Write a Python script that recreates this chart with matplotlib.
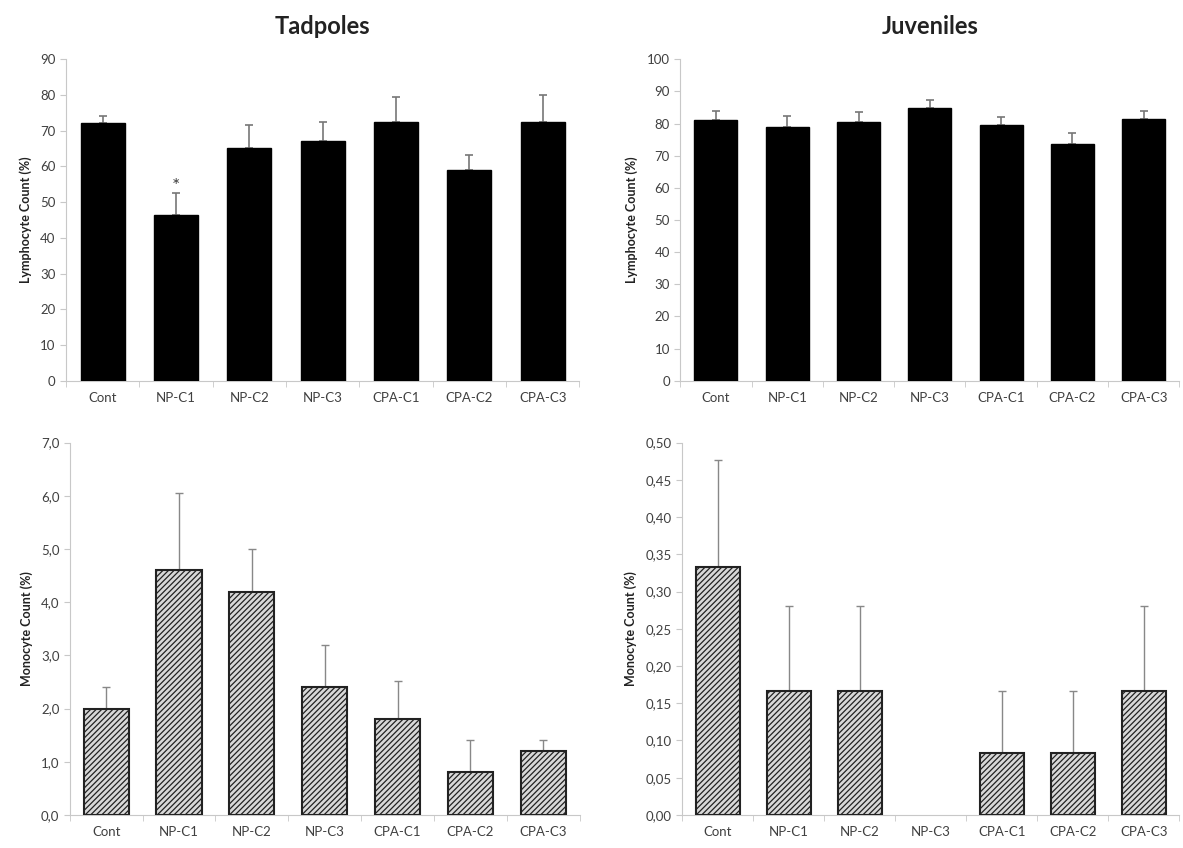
import numpy as np
import matplotlib.pyplot as plt
from matplotlib.ticker import FuncFormatter

groups = ["Cont", "NP-C1", "NP-C2", "NP-C3", "CPA-C1", "CPA-C2", "CPA-C3"]

# lymphocyte counts (%) with upper SE
tad_lym = [72.2, 46.5, 65.3, 67.2, 72.5, 59.0, 72.5]
tad_lym_err = [1.8, 6.0, 6.4, 5.3, 7.0, 4.3, 7.5]
juv_lym = [81.2, 79.0, 80.5, 85.0, 79.5, 73.7, 81.5]
juv_lym_err = [2.8, 3.5, 3.0, 2.3, 2.5, 3.3, 2.5]

# monocyte counts (%) with upper SE
tad_mono = [2.0, 4.6, 4.2, 2.4, 1.8, 0.8, 1.2]
tad_mono_err = [0.4, 1.45, 0.8, 0.8, 0.72, 0.6, 0.2]
juv_mono = [0.333, 0.167, 0.167, 0.0, 0.083, 0.083, 0.167]
juv_mono_err = [0.144, 0.113, 0.113, 0.0, 0.084, 0.084, 0.113]

plt.rcParams['font.family'] = ['Lato', 'DejaVu Sans']
plt.rcParams['hatch.color'] = '#333333'
plt.rcParams['hatch.linewidth'] = 0.9

fig = plt.figure(figsize=(11.83, 8.48), dpi=100)
ax_tl = fig.add_axes([0.0558, 0.551, 0.434, 0.379])
ax_tr = fig.add_axes([0.575, 0.551, 0.422, 0.379])
ax_bl = fig.add_axes([0.059, 0.039, 0.431, 0.439])
ax_br = fig.add_axes([0.5765, 0.039, 0.4205, 0.439])

x = np.arange(len(groups))
spine_col = '#c8c8c8'
text_col = '#404040'


def style(ax, ymax, step, ylabel, fmt=None):
    ax.set_xlim(-0.5, len(groups) - 0.5)
    ax.set_ylim(0, ymax)
    ax.set_yticks(np.arange(0, ymax + step / 2, step))
    if fmt:
        ax.yaxis.set_major_formatter(FuncFormatter(fmt))
    ax.set_xticks(x)
    ax.set_xticklabels(groups)
    ax.set_xticks(np.arange(-0.5, len(groups)), minor=True)
    ax.tick_params(axis='x', which='major', length=0, pad=8, labelsize=9.5, colors=text_col)
    ax.tick_params(axis='x', which='minor', length=4, direction='out', color=spine_col)
    ax.tick_params(axis='y', length=4, color=spine_col, labelsize=9.5, colors=text_col)
    for s in ['top', 'right']:
        ax.spines[s].set_visible(False)
    for s in ['left', 'bottom']:
        ax.spines[s].set_color(spine_col)
    ax.set_ylabel(ylabel, fontsize=9, fontweight='bold', color='#222222', labelpad=6)


def lym_bars(ax, vals, errs):
    ax.bar(x, vals, width=0.6, color='black', edgecolor='black', zorder=3)
    ax.errorbar(x, vals, yerr=[np.zeros(len(vals)), errs], fmt='none', ecolor='#777777',
                elinewidth=1.2, capsize=3, capthick=1.2, zorder=2)


def mono_bars(ax, vals, errs):
    # empty groups get no outline
    lw = [1.5 if v > 0 else 0 for v in vals]
    ax.bar(x, vals, width=0.62, color='#d8d8d8', edgecolor='#222222', linewidth=lw,
           hatch='//////', zorder=3)
    has = [i for i, v in enumerate(vals) if v > 0]
    ax.errorbar(x[has], np.array(vals)[has], yerr=[np.zeros(len(has)), np.array(errs)[has]],
                fmt='none', ecolor='#888888', elinewidth=1.0, capsize=3, capthick=1.0, zorder=2)


comma1 = lambda v, p: f"{v:.1f}".replace('.', ',')
comma2 = lambda v, p: f"{v:.2f}".replace('.', ',')

lym_bars(ax_tl, tad_lym, tad_lym_err)
style(ax_tl, 90, 10, 'Lymphocyte Count (%)')
ax_tl.text(x[1], tad_lym[1] + tad_lym_err[1] - 0.5, '*', ha='center', va='bottom',
           fontsize=14, color=text_col)
ax_tl.set_title('Tadpoles', fontsize=17, fontweight='bold', pad=18, color='#222222')

lym_bars(ax_tr, juv_lym, juv_lym_err)
style(ax_tr, 100, 10, 'Lymphocyte Count (%)')
ax_tr.set_title('Juveniles', fontsize=17, fontweight='bold', pad=18, color='#222222')

mono_bars(ax_bl, tad_mono, tad_mono_err)
style(ax_bl, 7.0, 1.0, 'Monocyte Count (%)', comma1)

mono_bars(ax_br, juv_mono, juv_mono_err)
style(ax_br, 0.5, 0.05, 'Monocyte Count (%)', comma2)

fig.savefig('out.png', dpi=100)
